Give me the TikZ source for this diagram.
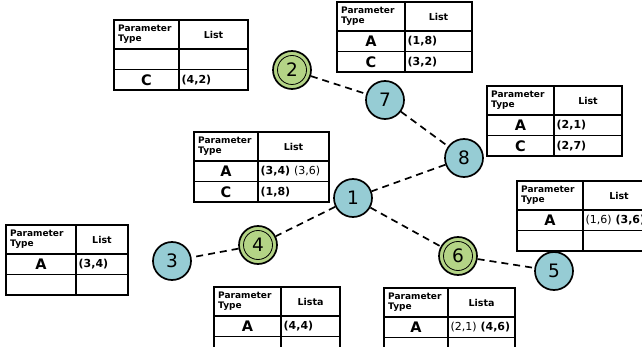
\documentclass[tikz,border=0pt]{standalone}
\usepackage{fontspec}
\setmainfont{DejaVu Sans}
\usetikzlibrary{positioning}
\definecolor{nodeblue}{RGB}{150,204,212}
\definecolor{nodegreen}{RGB}{180,212,134}
\def\hh{29}
\def\rh{20.5}
% table: name, top-left, column widths, list header
\newcommand{\ptab}[5]{%
  \begin{scope}[shift={#2}]
    \draw[tabline] (0,0) rectangle (#3+#4,\hh+2*\rh);
    \draw[tabline] (#3,0) -- (#3,\hh+2*\rh);
    \draw[tabline] (0,\hh) -- (#3+#4,\hh);
    \draw[tabline] (0,\hh+\rh) -- (#3+#4,\hh+\rh);
    \node[headtext] (#1-type) at (4,\hh/2) {Parameter\\Type};
    \node[listhead] (#1-list) at (#3+#4/2,\hh/2) {#5};
    \coordinate (#1-a1) at (#3/2,\hh+\rh/2);
    \coordinate (#1-b1) at (#3+2.5,\hh+\rh/2);
    \coordinate (#1-a2) at (#3/2,\hh+1.5*\rh);
    \coordinate (#1-b2) at (#3+2.5,\hh+1.5*\rh);
  \end{scope}}

\begin{document}
\begin{tikzpicture}[x=1pt,y=-1pt]
\tikzstyle{tabline}=[line width=1.2pt,black]
\tikzstyle{headtext}=[anchor=west,align=left,inner sep=0,font=\bfseries\fontsize{9}{10}\selectfont]
\tikzstyle{listhead}=[inner sep=0,font=\bfseries\fontsize{9.5}{11}\selectfont]
\tikzstyle{letter}=[inner sep=0,font=\bfseries\fontsize{14.5}{16}\selectfont]
\tikzstyle{entry}=[anchor=west,inner sep=0,font=\bfseries\fontsize{11}{12}\selectfont]
\tikzstyle{bnode}=[circle,draw=black,line width=1.7pt,fill=nodeblue,minimum size=38pt,inner sep=0,font=\fontsize{18.5}{18.5}\selectfont]
\tikzstyle{gnode}=[bnode,fill=nodegreen,path picture={\draw[line width=0.8pt] (path picture bounding box.center) circle (14.5pt);}]
\tikzstyle{link}=[line width=1.7pt,dash pattern=on 7pt off 5pt]
\useasboundingbox (0,0) rectangle (642,347);
\clip (0,0) rectangle (642,347);
%% tables %%
\ptab{t2}{(114,20)}{65}{69}{List}
\node[letter] (t2-C) at (t2-a2) {C};
\node[entry] (t2-Cl) at (t2-b2) {(4,2)};
\ptab{t7}{(337,2)}{68}{67}{List}
\node[letter] (t7-A) at (t7-a1) {A};
\node[entry] (t7-Al) at (t7-b1) {(1,8)};
\node[letter] (t7-C) at (t7-a2) {C};
\node[entry] (t7-Cl) at (t7-b2) {(3,2)};
\ptab{t8}{(487,86)}{67}{68}{List}
\node[letter] (t8-A) at (t8-a1) {A};
\node[entry] (t8-Al) at (t8-b1) {(2,1)};
\node[letter] (t8-C) at (t8-a2) {C};
\node[entry] (t8-Cl) at (t8-b2) {(2,7)};
\ptab{t1}{(194,132)}{64}{71}{List}
\node[letter] (t1-A) at (t1-a1) {A};
\node[entry] (t1-Al) at (t1-b1) {(3,4) {\mdseries(3,6)}};
\node[letter] (t1-C) at (t1-a2) {C};
\node[entry] (t1-Cl) at (t1-b2) {(1,8)};
\ptab{t5}{(517,181)}{66}{72}{List}
\node[letter] (t5-A) at (t5-a1) {A};
\node[entry] (t5-Al) at (t5-b1) {{\mdseries(1,6)} (3,6)};
\ptab{t3}{(6,225)}{70}{52}{List}
\node[letter] (t3-A) at (t3-a1) {A};
\node[entry] (t3-Al) at (t3-b1) {(3,4)};
\ptab{t4}{(214,287)}{67}{59}{Lista}
\node[letter] (t4-A) at (t4-a1) {A};
\node[entry] (t4-Al) at (t4-b1) {(4,4)};
\ptab{t6}{(384,288)}{64}{67}{Lista}
\node[letter] (t6-A) at (t6-a1) {A};
\node[entry] (t6-Al) at (t6-b1) {{\mdseries(2,1)} (4,6)};
%% nodes %%
\node[bnode] (n1) at (353,198) {1};
\node[gnode] (n2) at (292,70) {2};
\node[bnode] (n7) at (385,100) {7};
\node[bnode] (n8) at (464,158) {8};
\node[bnode] (n3) at (172,261) {3};
\node[gnode] (n4) at (258,245) {4};
\node[gnode] (n6) at (458,256) {6};
\node[bnode] (n5) at (554,271) {5};
%% links %%
\draw[link] (n2) -- (n7);
\draw[link] (n7) -- (n8);
\draw[link] (n8) -- (n1);
\draw[link] (n1) -- (n4);
\draw[link] (n4) -- (n3);
\draw[link] (n1) -- (n6);
\draw[link] (n6) -- (n5);
\end{tikzpicture}
\end{document}
